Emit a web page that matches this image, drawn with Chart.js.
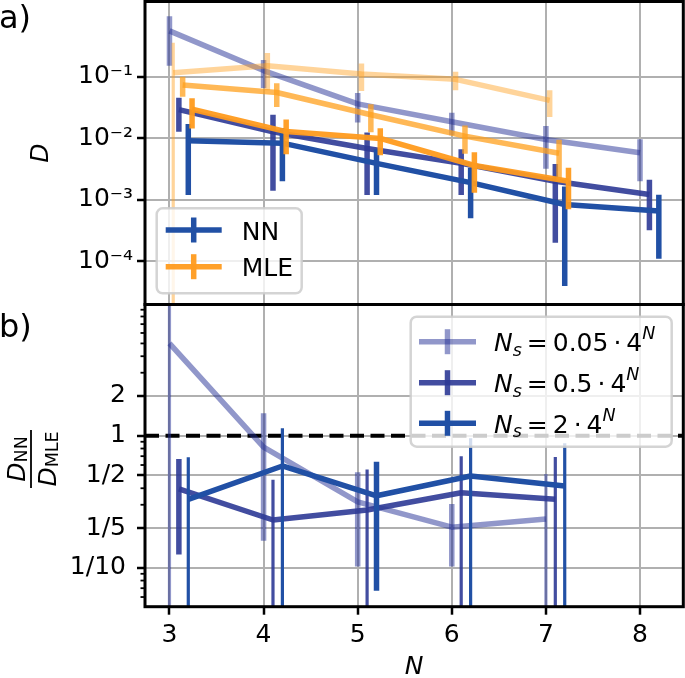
<!DOCTYPE html>
<html><head><meta charset="utf-8">
<script src="https://cdn.jsdelivr.net/npm/chart.js@4.4.1/dist/chart.umd.min.js"></script>
<style>
html,body{margin:0;padding:0;background:#fff;}
#wrap{position:relative;width:685px;height:678px;overflow:hidden;background:#fff;}
canvas{position:absolute;left:0;}
#top{top:0}
#bot{top:303px}
</style></head><body>
<div id="wrap"><canvas id="top" width="685" height="306"></canvas><canvas id="bot" width="685" height="375"></canvas></div>
<script>
// ---------------- data ----------------
const N_VALUES = [3, 4, 5, 6, 7, 8];
const NS_FACTORS = ['0.05', '0.5', '2'];

// panel a) : D for NN (mean, error) per N_s
const D_NN_005 = [0.55, 0.125, 0.036, 0.0185, 0.0095, 0.0058];
const ERR_NN_005 = [0.40, 0.060, 0.018, 0.0073, 0.0063, 0.0038];
const D_NN_05 = [0.029, 0.0127, 0.0068, 0.0039, 0.0020, 0.00122];
const ERR_NN_05 = [0.0163, 0.0113, 0.0056, 0.0027, 0.0018, 0.0009];
const D_NN_2 = [0.0091, 0.0083, 0.0039, 0.0019, 0.00084, 0.00066];
const ERR_NN_2 = [0.0079, 0.0063, 0.0027, 0.0014, 0.0008, 0.00055];

// panel a) : D for MLE (N = 3..7)
const D_MLE_005 = [0.115, 0.15, 0.11, 0.09, 0.041];
const ERR_MLE_005 = [0.238, 0.09, 0.052, 0.030, 0.019];
const D_MLE_05 = [0.073, 0.055, 0.024, 0.0108, 0.0057];
const ERR_MLE_05 = [0.026, 0.023, 0.0115, 0.0052, 0.0037];
const D_MLE_2 = [0.0294, 0.0128, 0.0099, 0.0036, 0.0020];
const ERR_MLE_2 = [0.015, 0.0073, 0.0046, 0.0023, 0.0013];

// panel b) : ratio D_NN / D_MLE (N = 3..7)
const RATIO_005 = [5.0, 0.82, 0.315, 0.203, 0.234];
const RATIO_ERR_005 = [6.5, 0.66, 0.213, 0.101, 0.28];
const RATIO_05 = [0.396, 0.23, 0.274, 0.37, 0.33];
const RATIO_ERR_05 = [0.27, 0.235, 0.28, 0.33, 0.36];
const RATIO_2 = [0.33, 0.59, 0.351, 0.495, 0.416];
const RATIO_ERR_2 = [0.356, 0.55, 0.284, 0.46, 0.46];
const REF_RATIO = 1;

// ticks
const X_TICKS = [3, 4, 5, 6, 7, 8];
const TOP_TICKS = [1e-4, 1e-3, 1e-2, 1e-1];
const TOP_TICK_LABELS = ['10\u207B\u2074', '10\u207B\u00B3', '10\u207B\u00B2', '10\u207B\u00B9'];
const RATIO_TICKS = [0.1, 0.2, 0.5, 1, 2];
const RATIO_TICK_LABELS = ['1/10', '1/5', '1/2', '1', '2'];
const RATIO_MINOR_TICKS = [0.06, 0.07, 0.08, 0.09, 0.3, 0.4, 0.6, 0.7, 0.8, 0.9, 3, 4, 5, 6, 7, 8, 9];

// ---------------- layout / style ----------------
const NN_OFFSETS = [0, 0.1, 0.2];
const MLE_OFFSETS = [0.04, 0.14, 0.24];
const X_MIN = 2.74, X_MAX = 8.46;
const TOP_MIN = 2.0e-5, TOP_MAX = 1.65;
const RATIO_MIN = 0.0507, RATIO_MAX = 9.86;
const NN_COLORS = ['rgba(35,48,150,0.5)', 'rgba(45,58,150,0.9)', 'rgb(33,80,165)'];
const MLE_COLORS = ['rgba(255,160,30,0.45)', 'rgba(255,160,30,0.75)', 'rgba(255,155,30,0.95)'];
const GRID = '#b0b0b0';
const FAMILY = "'DejaVu Sans'";
const LINE_W = 5.5, BAR_W = 5.5, BAR_THIN_W = 3.2;

Chart.defaults.font.family = FAMILY;
Chart.defaults.font.size = 25;
Chart.defaults.color = '#000';

function fontStr(size, italic) { return (italic ? 'italic ' : '') + size + 'px ' + FAMILY; }
function drawRuns(ctx, runs, x, y, align) {
  const widths = runs.map(r => { ctx.font = fontStr(r.s, r.i); return ctx.measureText(r.t).width; });
  const total = widths.reduce((a, b) => a + b, 0);
  let cx = align === 'center' ? x - total / 2 : x;
  ctx.textAlign = 'left'; ctx.textBaseline = 'alphabetic';
  runs.forEach((r, k) => { ctx.font = fontStr(r.s, r.i); ctx.fillText(r.t, cx, y + (r.dy || 0)); cx += widths[k]; });
}
function points(xs, ys, off) { return ys.map((y, i) => ({ x: xs[i] + off, y: y })); }
function lineDs(label, data, errors, color, order) {
  return { type: 'line', label, data, errors, borderColor: color, backgroundColor: color,
    borderWidth: LINE_W, pointRadius: 0, pointHoverRadius: 0, tension: 0, fill: false,
    borderCapStyle: 'butt', borderJoinStyle: 'round', order };
}
function labelFor(v, ticks, labels) {
  const i = ticks.findIndex(t => Math.abs(Math.log10(t) - Math.log10(v)) < 1e-6);
  return i >= 0 ? labels[i] : '';
}

// error bars drawn through the chart scales
const errorBars = {
  id: 'errorBars',
  afterDatasetDraw(chart, args) {
    const ds = chart.data.datasets[args.index];
    if (!ds.errors) return;
    const xs = chart.scales.x, ys = chart.scales.y, ctx = chart.ctx, a = chart.chartArea;
    ctx.save();
    ctx.beginPath(); ctx.rect(a.left, a.top, a.right - a.left, a.bottom - a.top); ctx.clip();
    ctx.strokeStyle = ds.borderColor; ctx.lineCap = 'butt';
    ds.data.forEach((p, i) => {
      const e = ds.errors[i];
      const hi = p.y + e, lo = p.y - e;
      const px = xs.getPixelForValue(p.x);
      const yHi = ys.getPixelForValue(hi);
      const inside = lo > ys.min;
      const yLo = inside ? ys.getPixelForValue(lo) : a.bottom + 5;
      ctx.lineWidth = inside ? BAR_W : BAR_THIN_W;
      ctx.beginPath(); ctx.moveTo(px, yLo); ctx.lineTo(px, yHi); ctx.stroke();
    });
    ctx.restore();
  }
};

function drawFrame(chart) {
  const ctx = chart.ctx, a = chart.chartArea;
  ctx.save(); ctx.strokeStyle = '#000'; ctx.lineWidth = 3;
  ctx.strokeRect(a.left, a.top, a.right - a.left, a.bottom - a.top);
  ctx.restore();
}
function legendBox(ctx, x, y, w, h) {
  ctx.save();
  ctx.beginPath(); ctx.roundRect(x, y, w, h, 6);
  ctx.fillStyle = 'rgba(255,255,255,0.8)'; ctx.fill();
  ctx.strokeStyle = 'rgba(204,204,204,0.85)'; ctx.lineWidth = 2.5; ctx.stroke();
  ctx.restore();
}
function legendHandle(ctx, x0, x1, y, color) {
  ctx.save(); ctx.strokeStyle = color; ctx.lineWidth = LINE_W; ctx.lineCap = 'butt';
  ctx.beginPath(); ctx.moveTo(x0, y); ctx.lineTo(x1, y); ctx.stroke();
  const xm = (x0 + x1) / 2;
  ctx.beginPath(); ctx.moveTo(xm, y - 12.5); ctx.lineTo(xm, y + 12.5); ctx.stroke();
  ctx.restore();
}
function noPad(s) { s.paddingTop = 0; s.paddingBottom = 0; s.paddingLeft = 0; s.paddingRight = 0; }

function xScale(showLabels) {
  return {
    type: 'linear', position: 'bottom', min: X_MIN, max: X_MAX, bounds: 'data',
    afterBuildTicks: s => { s.ticks = X_TICKS.map(v => ({ value: v })); },
    grid: { color: GRID, lineWidth: 2, drawTicks: showLabels, tickLength: 8, tickColor: '#000', tickWidth: 2.5 },
    border: { display: false },
    ticks: { display: showLabels, padding: 6, autoSkip: false, maxRotation: 0, callback: v => String(v), font: { size: 25 } },
    title: showLabels ? { display: true, text: 'N', font: { size: 25, style: 'italic', lineHeight: 0.84 }, padding: { top: 0, bottom: 0 } } : { display: false },
    afterFit: s => { s.height = showLabels ? 71.3 : 1.5; noPad(s); }
  };
}

// ---------------- panel a) ----------------
const topDatasets = [];
const NN_D = [D_NN_005, D_NN_05, D_NN_2], NN_E = [ERR_NN_005, ERR_NN_05, ERR_NN_2];
const MLE_D = [D_MLE_005, D_MLE_05, D_MLE_2], MLE_E = [ERR_MLE_005, ERR_MLE_05, ERR_MLE_2];
let ord = 20;
for (let k = 0; k < 3; k++) {
  topDatasets.push(lineDs('NN ' + NS_FACTORS[k], points(N_VALUES, NN_D[k], NN_OFFSETS[k]), NN_E[k], NN_COLORS[k], ord--));
  topDatasets.push(lineDs('MLE ' + NS_FACTORS[k], points(N_VALUES, MLE_D[k], MLE_OFFSETS[k]), MLE_E[k], MLE_COLORS[k], ord--));
}

const topDecor = {
  id: 'topDecor',
  afterDraw(chart) {
    const ctx = chart.ctx, a = chart.chartArea;
    drawFrame(chart);
    ctx.save(); ctx.fillStyle = '#000';
    drawRuns(ctx, [{ t: 'a)', s: 32 }], -1, 28, 'left');
    const bw = 145, bh = 85, bx = a.left + 11.7, by = a.bottom - 11.2 - bh;
    legendBox(ctx, bx, by, bw, bh);
    const rows = [by + 21.7, by + 58.4];
    legendHandle(ctx, bx + 9, bx + 65, rows[0], NN_COLORS[2]);
    legendHandle(ctx, bx + 9, bx + 65, rows[1], MLE_COLORS[2]);
    ctx.fillStyle = '#000';
    drawRuns(ctx, [{ t: 'NN', s: 25 }], bx + 85, rows[0] + 9.5, 'left');
    drawRuns(ctx, [{ t: 'MLE', s: 25 }], bx + 85, rows[1] + 9.5, 'left');
    ctx.restore();
  }
};

new Chart(document.getElementById('top'), {
  type: 'line',
  data: { datasets: topDatasets },
  options: {
    responsive: false, animation: false, events: [],
    layout: { padding: { left: 0, right: 1.7, top: 1.5, bottom: 0 } },
    plugins: { legend: { display: false }, tooltip: { enabled: false } },
    scales: {
      x: xScale(false),
      y: {
        type: 'logarithmic', position: 'left', min: TOP_MIN, max: TOP_MAX, bounds: 'data',
        afterBuildTicks: s => { s.ticks = TOP_TICKS.map(v => ({ value: v })); },
        ticks: { autoSkip: false, padding: 4, font: { size: 25 }, callback: v => labelFor(v, TOP_TICKS, TOP_TICK_LABELS) },
        grid: { color: GRID, lineWidth: 2, tickLength: 8, tickColor: '#000', tickWidth: 2.5 },
        border: { display: false },
        title: { display: true, text: 'D', font: { size: 25, style: 'italic' }, padding: { top: 26, bottom: 0 } },
        afterFit: s => { s.width = 145; noPad(s); }
      }
    }
  },
  plugins: [errorBars, topDecor]
});

// ---------------- panel b) ----------------
const R_V = [RATIO_005, RATIO_05, RATIO_2], R_E = [RATIO_ERR_005, RATIO_ERR_05, RATIO_ERR_2];
const botDatasets = [];
botDatasets.push({ type: 'line', label: 'ref', data: [{ x: X_MIN, y: REF_RATIO }, { x: X_MAX, y: REF_RATIO }],
  borderColor: '#000', borderWidth: 4, borderDash: [14, 6.5], pointRadius: 0, fill: false, order: 100 });
for (let k = 0; k < 3; k++) {
  botDatasets.push(lineDs('Ns ' + NS_FACTORS[k], points(N_VALUES, R_V[k], NN_OFFSETS[k]), R_E[k], NN_COLORS[k], 10 - k));
}

const botDecor = {
  id: 'botDecor',
  afterDraw(chart) {
    const ctx = chart.ctx, a = chart.chartArea, ys = chart.scales.y;
    ctx.save();
    ctx.strokeStyle = '#000'; ctx.lineWidth = 1.8;
    RATIO_MINOR_TICKS.forEach(v => {
      const py = ys.getPixelForValue(v);
      ctx.beginPath(); ctx.moveTo(a.left - 4.5, py); ctx.lineTo(a.left, py); ctx.stroke();
    });
    ctx.restore();
    drawFrame(chart);
    ctx.save(); ctx.fillStyle = '#000';
    drawRuns(ctx, [{ t: 'b)', s: 32 }], -1, 33.5, 'left');
    // y title: D_NN / D_MLE
    const cx = 31, cy = (a.top + a.bottom) / 2 + 3.4;
    ctx.translate(cx, cy); ctx.rotate(-Math.PI / 2);
    drawRuns(ctx, [{ t: 'D', s: 25, i: true }, { t: 'NN', s: 17.5, dy: 2 }], 0, -6, 'center');
    drawRuns(ctx, [{ t: 'D', s: 25, i: true }, { t: 'MLE', s: 17.5, dy: 2 }], 0, 24.5, 'center');
    ctx.strokeStyle = '#000'; ctx.lineWidth = 1.8;
    ctx.beginPath(); ctx.moveTo(-29, 0); ctx.lineTo(29, 0); ctx.stroke();
    ctx.restore();
    // legend
    ctx.save();
    const bw = 261, bh = 130, bx = a.right - 11.6 - bw, by = a.top + 12.2;
    legendBox(ctx, bx, by, bw, bh);
    const rows = [by + 25, by + 66, by + 106.6];
    ctx.fillStyle = '#000';
    for (let k = 0; k < 3; k++) {
      legendHandle(ctx, bx + 8.3, bx + 65.3, rows[k], NN_COLORS[k]);
      ctx.fillStyle = '#000';
      drawRuns(ctx, [
        { t: 'N', s: 25, i: true }, { t: 's', s: 17.5, i: true, dy: 4.7 },
        { t: '\u2009=\u2009' + NS_FACTORS[k] + '\u2009\u00B7\u20094', s: 25 },
        { t: 'N', s: 17.5, i: true, dy: -12 }
      ], bx + 83.3, rows[k] + 9.3, 'left');
    }
    ctx.restore();
  }
};

new Chart(document.getElementById('bot'), {
  type: 'line',
  data: { datasets: botDatasets },
  options: {
    responsive: false, animation: false, events: [],
    layout: { padding: { left: 0, right: 1.7, top: 1.5, bottom: 0 } },
    plugins: { legend: { display: false }, tooltip: { enabled: false } },
    scales: {
      x: xScale(true),
      y: {
        type: 'logarithmic', position: 'left', min: RATIO_MIN, max: RATIO_MAX, bounds: 'data',
        afterBuildTicks: s => { s.ticks = RATIO_TICKS.map(v => ({ value: v })); },
        ticks: { autoSkip: false, padding: 11, font: { size: 25 }, callback: v => labelFor(v, RATIO_TICKS, RATIO_TICK_LABELS) },
        grid: { color: GRID, lineWidth: 2, tickLength: 8, tickColor: '#000', tickWidth: 2.5 },
        border: { display: false },
        title: { display: false },
        afterFit: s => { s.width = 145; noPad(s); }
      }
    }
  },
  plugins: [errorBars, botDecor]
});
</script></body></html>
